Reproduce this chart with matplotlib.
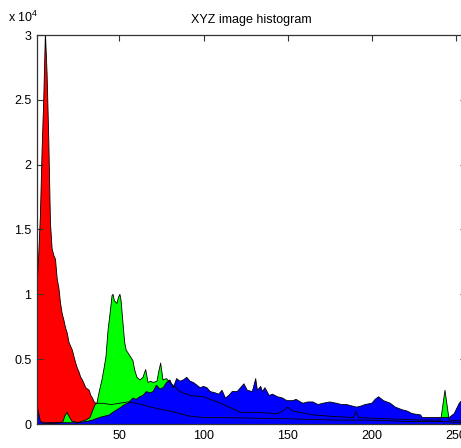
import matplotlib
matplotlib.use("Agg")
import matplotlib.pyplot as plt
from matplotlib.ticker import FixedLocator, FuncFormatter

plt.rcParams['font.family'] = ['Liberation Sans', 'DejaVu Sans']
plt.rcParams['mathtext.default'] = 'regular'

# values in units of 10^4 counts
red_x = [1, 2, 3, 4, 5, 6, 7, 8, 9, 10, 11, 12, 13, 14, 15, 16, 17, 18, 19, 20,
         21, 22, 23, 24, 25, 26, 27, 28, 29, 30, 31, 32, 33, 34, 35, 36, 37, 38, 40, 45,
         50, 55, 60, 66, 72, 80, 86, 92, 100, 110, 130, 150, 165, 180, 200, 220, 240, 256]
red_y = [1.05, 1.3, 1.6, 2.1, 2.5, 3.02, 2.7, 2.2, 1.55, 1.35, 1.3, 1.27, 1.12, 1.05, 0.93, 0.85, 0.8, 0.74, 0.7, 0.63,
         0.6, 0.57, 0.52, 0.47, 0.43, 0.4, 0.36, 0.34, 0.31, 0.28, 0.27, 0.26, 0.22, 0.2, 0.17, 0.16, 0.16, 0.16, 0.16, 0.15,
         0.16, 0.17, 0.16, 0.14, 0.12, 0.1, 0.08, 0.06, 0.05, 0.05, 0.045, 0.04, 0.035, 0.03, 0.03, 0.02, 0.02, 0.01]

green_x = [1, 5, 10, 15, 16.5, 17.5, 18.8, 20, 21.8, 23,
           25, 30, 32.5, 34, 35.5, 36.6, 38, 39.6, 41, 42,
           43.2, 44.4, 45.6, 46.2, 47, 48.5, 49.5, 50.3, 51, 52.1,
           53.1, 54, 55, 56.5, 58, 59, 60.4, 62.2, 64, 65.6,
           67, 68.5, 70, 72.3, 73.3, 74.5, 75.9, 78, 80, 81.8,
           86, 92, 100, 110, 117, 122, 130, 144, 147, 150,
           153, 157, 165, 175, 189, 190.5, 192, 210, 230, 241,
           243.5, 246, 256]
green_y = [0, 0, 0.005, 0.01, 0.02, 0.06, 0.09, 0.06, 0.02, 0.02,
           0.01, 0.03, 0.05, 0.1, 0.15, 0.16, 0.25, 0.34, 0.44, 0.52,
           0.72, 0.85, 0.99, 1.0, 0.95, 0.93, 0.98, 1.0, 0.95, 0.78,
           0.63, 0.57, 0.55, 0.52, 0.49, 0.42, 0.36, 0.34, 0.36, 0.42,
           0.32, 0.33, 0.32, 0.33, 0.4, 0.47, 0.34, 0.35, 0.32, 0.3,
           0.25, 0.22, 0.21, 0.16, 0.12, 0.09, 0.09, 0.08, 0.1, 0.13,
           0.1, 0.09, 0.07, 0.06, 0.05, 0.1, 0.05, 0.04, 0.03, 0.03,
           0.26, 0.03, 0.02]

blue_x = [1, 2, 3, 5, 10, 15, 20, 25, 30.7, 34,
          38, 41, 44, 46, 48.5, 51, 53, 55, 58, 60,
          62, 64, 66, 68, 70, 72, 74, 76, 78, 80,
          82, 84, 86, 88, 90, 92, 94, 96, 98, 100,
          102, 104, 107, 109, 111, 113, 115, 117, 120, 122,
          124, 126, 129, 131, 132, 134, 135, 136.5, 139, 141,
          144, 147, 149.5, 153, 155, 159, 162, 165, 168, 171,
          175, 179, 182, 185, 188, 191, 194, 196, 200, 202,
          204, 207, 211, 214, 218, 221, 224, 229, 230, 240,
          246, 249, 252, 256]
blue_y = [0.15, 0.08, 0.02, 0.01, 0.01, 0.01, 0.01, 0.01, 0.02, 0.03,
          0.05, 0.06, 0.07, 0.09, 0.11, 0.13, 0.15, 0.16, 0.2, 0.19,
          0.21, 0.22, 0.25, 0.24, 0.25, 0.3, 0.27, 0.28, 0.32, 0.34,
          0.28, 0.35, 0.33, 0.34, 0.36, 0.33, 0.32, 0.3, 0.28, 0.29,
          0.28, 0.25, 0.24, 0.23, 0.26, 0.2, 0.22, 0.25, 0.25, 0.28,
          0.31, 0.26, 0.25, 0.35, 0.26, 0.29, 0.25, 0.28, 0.22, 0.23,
          0.21, 0.2, 0.18, 0.18, 0.19, 0.16, 0.17, 0.17, 0.15, 0.16,
          0.17, 0.16, 0.15, 0.15, 0.14, 0.13, 0.14, 0.15, 0.16, 0.19,
          0.21, 0.18, 0.16, 0.13, 0.11, 0.1, 0.08, 0.07, 0.05, 0.05,
          0.05, 0.08, 0.16, 0.22]

x_ticks = [50, 100, 150, 200, 250]
y_ticks = [0, 0.5, 1, 1.5, 2, 2.5, 3]
y_tick_labels = ['0', '0.5', '1', '1.5', '2', '2.5', '3']
title = 'XYZ image histogram'

W, H = 461, 448
fig = plt.figure(figsize=(W / 100, H / 100), dpi=100)
fig.patch.set_facecolor('white')
ax = fig.add_axes([37 / W, 24 / H, 429 / W, 389 / H])

series = [(red_x, red_y, '#ff0000'), (green_x, green_y, '#00ff00'), (blue_x, blue_y, '#0000ff')]
for i, (xs, ys, c) in enumerate(series):
    ax.fill_between(xs, 0, ys, facecolor=c, edgecolor='none', zorder=1 + i)
for xs, ys, c in series:
    ax.plot(xs, ys, color='black', lw=0.6, zorder=5)

ax.set_xlim(1, 256)
ax.set_ylim(0, 3)
ax.set_xticks(x_ticks)
ax.set_yticks(y_ticks)
ax.set_yticklabels(y_tick_labels)
ax.tick_params(direction='in', length=4, width=0.8, color='#333333', labelsize=9,
               top=True, right=True, pad=4)
for s in ax.spines.values():
    s.set_color('#333333')
    s.set_linewidth(0.9)
    s.set_zorder(6)
ax.set_title(title, fontsize=9, pad=9)
fig.text(8 / W, 1 - 22 / H, r'x 10$^{4}$', fontsize=9, ha='left', va='baseline')

fig.savefig('out.png', dpi=100)
